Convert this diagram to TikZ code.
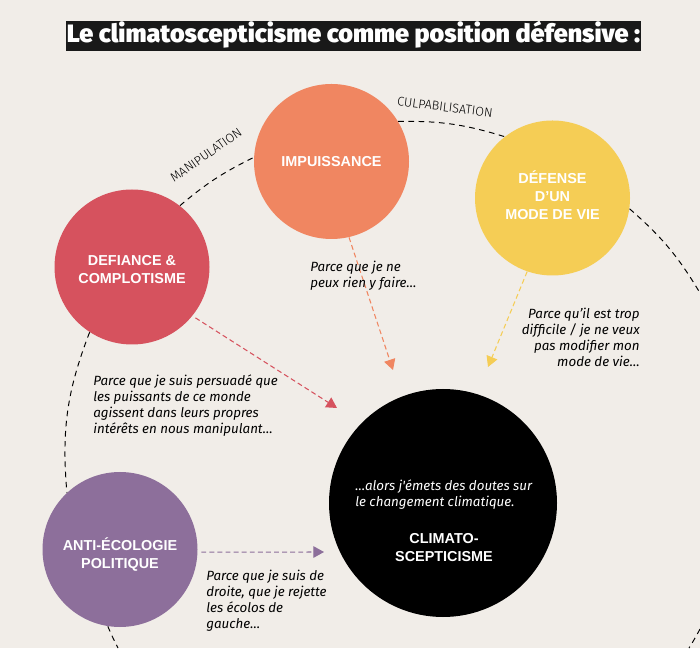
\documentclass[tikz,border=0pt]{standalone}
\usepackage{fontspec}
\setmainfont{Fira Sans Light}
\newfontfamily\reasonfont{Fira Sans}
\newfontfamily\titlefont{Fira Sans Black}
\newfontfamily\bubblefont{Liberation Sans}
\usetikzlibrary{arrows.meta}
\definecolor{paper}{HTML}{F1EDE8}
\definecolor{redbubble}{HTML}{D6525E}
\definecolor{orangebubble}{HTML}{F08661}
\definecolor{yellowbubble}{HTML}{F5CD55}
\definecolor{purplebubble}{HTML}{8D6F9B}
\tikzset{
	bubble/.style={circle, minimum size=3.1cm, inner sep=0, align=center, text=white, font=\bubblefont\bfseries\fontsize{8.2}{10.2}\selectfont},
	orbit/.style={line width=0.55pt, dash pattern=on 3.2pt off 2.6pt},
	reason/.style={line width=0.6pt, dash pattern=on 2.8pt off 1.8pt, -{Triangle[length=6pt, width=6.5pt]}},
	because/.style={inner sep=0, font=\reasonfont\itshape\fontsize{7.6}{9.15}\selectfont},
	tactic/.style={font=\fontsize{7.2}{9}\selectfont}
}

\begin{document}
\begin{tikzpicture}
	%%%%% START %%%%%

	\fill[paper] (0,0) rectangle (14,12.96);
	\useasboundingbox (0,0) rectangle (14,12.96);

	\node[fill=black!90, text=white, inner xsep=0.5pt, inner ysep=0, text height=0.43cm, text depth=0.17cm, font=\titlefont\fontsize{14.3}{18}\selectfont] (title) at (7.07, 12.24) {Le climatoscepticisme comme position défensive :};

	\node[bubble, fill=orangebubble] (impuissance) at (6.63, 9.73) {IMPUISSANCE};
	\node[bubble, fill=redbubble] (defiance) at (2.64, 7.62) {\rule{0pt}{8.2pt}DEFIANCE \&\\COMPLOTISME};
	\node[bubble, fill=yellowbubble] (defense) at (11.05, 9.0) {DÉFENSE\\D’UN\\MODE DE VIE\rule[-3.4pt]{0pt}{0pt}};
	\node[bubble, fill=purplebubble] (antieco) at (2.4, 1.97) {\rule{0pt}{13pt}ANTI-ÉCOLOGIE\\POLITIQUE};
	\node[bubble, fill=black, minimum size=4.56cm] (climato) at (8.86, 2.9) {};

	\node[bubble] (climatolabel) at (8.88, 2.0) {CLIMATO-\\SCEPTICISME};
	\node[because, text=white, align=left, anchor=west] (alors) at (7.1, 3.07) {…alors j'émets des doutes sur\\le changement climatique.};

	\coordinate (rightedge) at (14, 7.1);
	\coordinate (cornerright) at (14, 0.38);
	\coordinate (bottomright) at (13.78, 0);
	\coordinate (bottomleft) at (2.36, 0);

	\draw[orbit] (defiance.52) to[bend left=7] (impuissance.177);
	\draw[orbit] (impuissance.31) to[bend left=9] (defense.128);
	\draw[orbit] (defense.-8) to[bend left=9] (rightedge);
	\draw[orbit] (cornerright) to[bend left=2] (bottomright);
	\draw[orbit] (antieco.261) to[bend right=2] (bottomleft);
	\draw[orbit] (defiance.237) to[bend right=13] (antieco.133);

	\node[tactic, rotate=35] (manipulation) at (4.12, 9.86) {MANIPULATION};
	\node[tactic, rotate=-7] (culpabilisation) at (8.9, 10.82) {CULPABILISATION};

	\coordinate (tipdefiance) at (6.74, 4.8);
	\coordinate (tipimpuissance) at (7.86, 5.56);
	\coordinate (tipdefense) at (9.76, 5.62);
	\coordinate (tipantieco) at (6.48, 1.92);

	\draw[reason, color=redbubble, shorten <=2pt] (defiance.-39) -- (tipdefiance);
	\draw[reason, color=orangebubble] (impuissance.-77) -- (tipimpuissance);
	\draw[reason, color=yellowbubble] (defense.-109) -- (tipdefense);
	\draw[reason, color=purplebubble, shorten <=2pt] (antieco.-2) -- (tipantieco);

	\node[because, align=left, anchor=west] (whyimpuissance) at (6.2, 7.44) {Parce que je ne\\peux rien y faire…};
	\node[because, align=right, anchor=east] (whydefense) at (12.8, 6.22) {Parce qu’il est trop\\difficile / je ne veux\\pas modifier mon\\mode de vie…};
	\node[because, align=left, anchor=west] (whydefiance) at (1.86, 4.85) {Parce que je suis persuadé que\\les puissants de ce monde\\agissent dans leurs propres\\intérêts en nous manipulant…};
	\node[because, align=left, anchor=west] (whyantieco) at (4.12, 0.94) {Parce que je suis de\\droite, que je rejette\\les écolos de\\gauche…};

	%%%%% END %%%%%
\end{tikzpicture}
\end{document}
